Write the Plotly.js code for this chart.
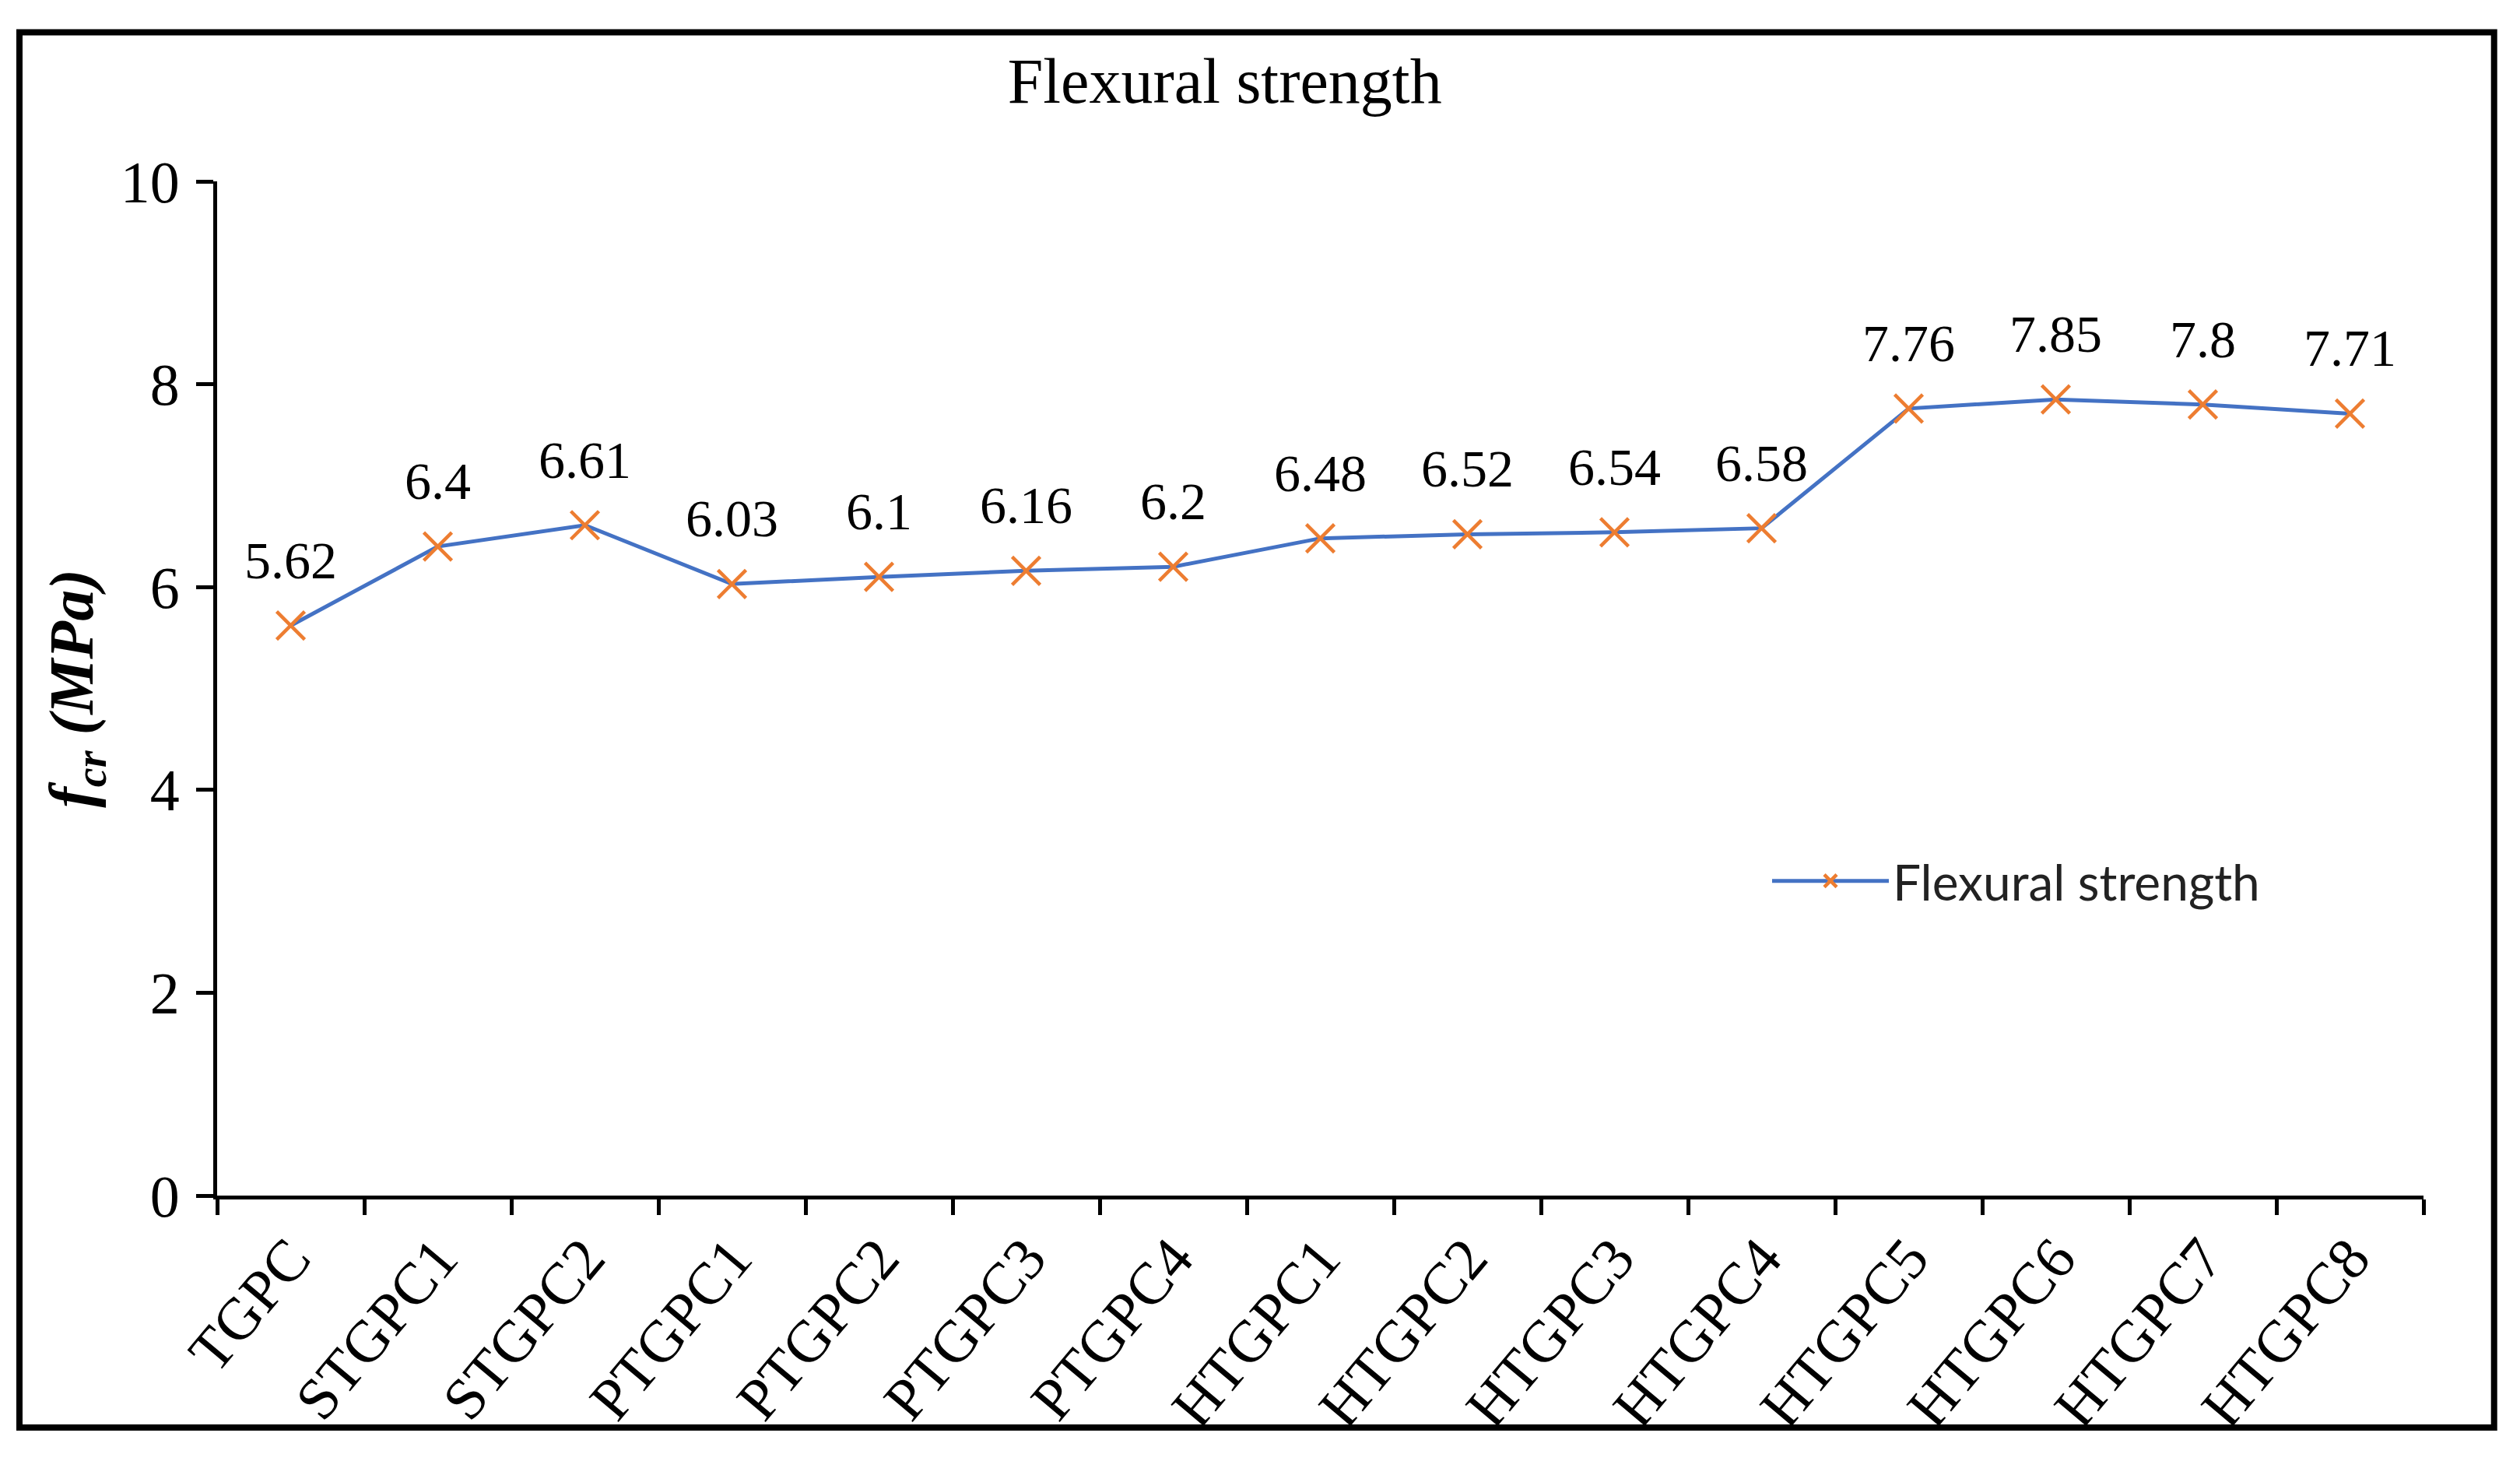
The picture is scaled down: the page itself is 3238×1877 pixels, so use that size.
<!DOCTYPE html>
<html>
<head>
<meta charset="utf-8">
<script src="https://cdn.plot.ly/plotly-3.0.1.min.js"></script>
<style>
  html, body { margin: 0; padding: 0; background: #ffffff; }
  #chart { width: 3238px; height: 1877px; }
</style>
</head>
<body>
<div id="chart"></div>
<script>
// Mix names along the x axis
const mixes = ["TGPC", "STGPC1", "STGPC2", "PTGPC1", "PTGPC2", "PTGPC3", "PTGPC4",
    "HTGPC1", "HTGPC2", "HTGPC3", "HTGPC4", "HTGPC5", "HTGPC6", "HTGPC7", "HTGPC8"];

// Flexural strength per mix (MPa)
const flexural = [5.62, 6.4, 6.61, 6.03, 6.1, 6.16, 6.2,
    6.48, 6.52, 6.54, 6.58, 7.76, 7.85, 7.8, 7.71];

// Y axis ticks
const yTicks = [0, 2, 4, 6, 8, 10];

const serif = "Liberation Serif";

// Line trace with cross markers
let trace = {
    x: mixes,
    y: flexural,
    name: "Flexural strength",
    type: "scatter",
    mode: "lines+markers",
    line: { color: "#4472C4", width: 5 },
    marker: {
        symbol: "x-thin",
        size: 36,
        color: "#ED7D31",
        line: { color: "#ED7D31", width: 4.5 }
    },
    cliponaxis: false
};

// Value labels above every point
let labels = mixes.map((m, i) => ({
    x: m,
    y: flexural[i],
    text: String(flexural[i]),
    showarrow: false,
    yshift: 84,
    font: { family: serif, size: 68, color: "#000000" }
}));

let layout = {
    width: 3238,
    height: 1877,
    font: { family: serif, color: "#000000" },
    paper_bgcolor: "#ffffff",
    plot_bgcolor: "#ffffff",
    margin: { l: 279, r: 124, t: 233, b: 341 },
    title: {
        text: "Flexural strength",
        font: { family: serif, size: 82, color: "#000000" },
        x: 0.486,
        xanchor: "center",
        y: 0.945,
        yanchor: "middle"
    },
    xaxis: {
        type: "category",
        range: [-0.5, 14.5],
        showline: true,
        linecolor: "#000000",
        linewidth: 5,
        ticks: "outside",
        tickson: "boundaries",
        ticklen: 20,
        tickwidth: 5,
        tickcolor: "#000000",
        tickangle: -50,
        tickfont: { family: serif, size: 76, color: "#000000" },
        showgrid: false,
        zeroline: false
    },
    yaxis: {
        range: [0, 10],
        tickvals: yTicks,
        showline: true,
        linecolor: "#000000",
        linewidth: 5,
        ticks: "outside",
        ticklen: 22,
        tickwidth: 5,
        tickcolor: "#000000",
        ticklabelstandoff: 6,
        tickfont: { family: serif, size: 76, color: "#000000" },
        showgrid: false,
        zeroline: false,
        title: {
            text: "<b><i>f<sub>cr</sub> (MPa)</i></b>",
            font: { family: serif, size: 80, color: "#000000" },
            standoff: 10
        }
    },
    showlegend: true,
    legend: {
        x: 0.703,
        y: 0.31,
        xanchor: "left",
        yanchor: "middle",
        bgcolor: "rgba(0,0,0,0)",
        itemwidth: 150,
        font: { family: "Lato, Open Sans, sans-serif", size: 64, color: "#222222" }
    },
    annotations: labels,
    shapes: [{
        type: "rect",
        xref: "paper",
        yref: "paper",
        x0: -0.0896,
        x1: 1.032,
        y0: -0.2287,
        y1: 1.147,
        line: { color: "#000000", width: 8 },
        fillcolor: "rgba(0,0,0,0)"
    }]
};

Plotly.newPlot("chart", [trace], layout, { displayModeBar: false });
</script>
</body>
</html>
